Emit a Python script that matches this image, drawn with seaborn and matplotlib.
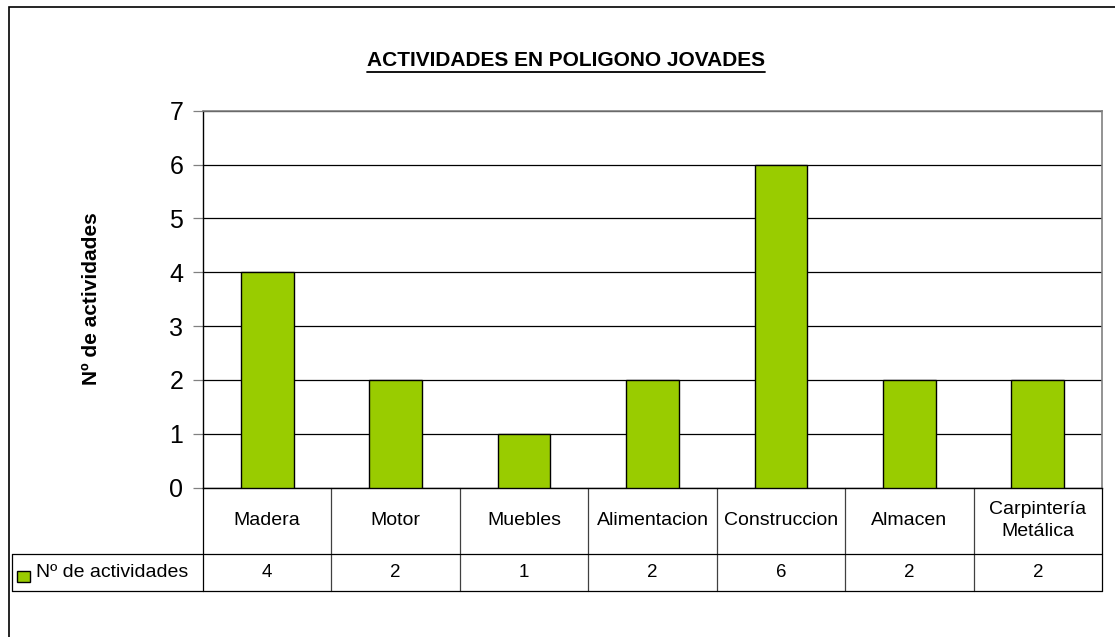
import matplotlib
matplotlib.use("Agg")
import matplotlib.pyplot as plt
import matplotlib.transforms as mtransforms
from matplotlib.patches import Rectangle
import seaborn as sns
import pandas as pd

categories = ["Madera", "Motor", "Muebles", "Alimentacion", "Construccion",
              "Almacen", "Carpintería\nMetálica"]
values = [4, 2, 1, 2, 6, 2, 2]
series_name = "Nº de actividades"
title = "ACTIVIDADES EN POLIGONO JOVADES"
yticks = [0, 1, 2, 3, 4, 5, 6, 7]

bar_color = "#99CC00"

sns.set_style("white")
plt.rcParams["font.family"] = ["Liberation Sans", "DejaVu Sans"]
plt.rcParams["text.color"] = "black"
plt.rcParams["axes.labelcolor"] = "black"
plt.rcParams["ytick.labelcolor"] = "black"

W, H = 1115, 637
fig = plt.figure(figsize=(W / 100, H / 100), dpi=100)

# plot area in pixels
x0, x1, y_top, y_zero = 203, 1102, 110.7, 487.5
ax = fig.add_axes([x0 / W, 1 - y_zero / H, (x1 - x0) / W, (y_zero - y_top) / H])

df = pd.DataFrame({"cat": categories, "val": values})
sns.barplot(data=df, x="cat", y="val", color=bar_color, saturation=1,
            edgecolor="black", linewidth=1.0, width=0.41, ax=ax, zorder=3)

ax.set_ylim(0, 7)
ax.set_xlim(-0.5, len(categories) - 0.5)
ax.set_yticks(yticks)
ax.yaxis.grid(True, color="black", linewidth=0.9, zorder=0)
ax.set_axisbelow(True)
ax.tick_params(axis="y", labelsize=18, length=7.2, width=0.9, color="#808080",
               labelcolor="black", left=True, pad=7)
ax.set_xticks([])
ax.set_xlabel("")
ax.set_ylabel(series_name, fontsize=15, fontweight="bold", labelpad=49,
              color="black")
for side in ["top", "right"]:
    ax.spines[side].set_color("#808080")
    ax.spines[side].set_linewidth(1.2)
ax.spines["left"].set_color("black")
ax.spines["bottom"].set_color("black")
ax.spines["left"].set_linewidth(1.0)
ax.spines["bottom"].set_linewidth(1.0)

# data table below the plot (x in data units, y in pixel-derived figure coords)
trans = mtransforms.blended_transform_factory(ax.transData, fig.transFigure)
fy = lambda py: 1 - py / H
row_mid, row_bot = 554, 591
n = len(categories)
line_kw = dict(color="black", linewidth=0.9, clip_on=False)
for i in range(n + 1):
    ax.plot([i - 0.5, i - 0.5], [fy(y_zero), fy(row_bot)], transform=trans,
            color="#404040" if 0 < i < n else "black",
            linewidth=0.9, clip_on=False)
ax.plot([-0.5, n - 0.5], [fy(row_bot), fy(row_bot)], transform=trans, **line_kw)
fig.add_artist(plt.Line2D([12 / W, x1 / W], [fy(row_mid), fy(row_mid)],
                          color="black", linewidth=0.9))
fig.add_artist(plt.Line2D([12 / W, x0 / W], [fy(row_bot), fy(row_bot)],
                          color="black", linewidth=0.9))
fig.add_artist(plt.Line2D([12 / W, 12 / W], [fy(row_mid), fy(row_bot)],
                          color="black", linewidth=0.9))

for i, (c, v) in enumerate(zip(categories, values)):
    ax.text(i, fy((y_zero + row_mid) / 2), c, transform=trans, ha="center",
            va="center", fontsize=14, linespacing=1.4, color="black")
    ax.text(i, fy((row_mid + row_bot) / 2), str(v), transform=trans,
            ha="center", va="center", fontsize=13.5, color="black")

# legend key in table
fig.add_artist(Rectangle((17 / W, fy(582)), 13 / W, 11 / H, facecolor=bar_color,
                         edgecolor="black", linewidth=1.0))
fig.text(36 / W, fy((row_mid + row_bot) / 2), series_name, ha="left",
         va="center", fontsize=14, color="black")

# title with underline
t = fig.text(566 / W, fy(61), title, ha="center", va="center", fontsize=15,
             fontweight="bold", color="black")
fig.canvas.draw()
bb = t.get_window_extent().transformed(fig.transFigure.inverted())
fig.add_artist(plt.Line2D([bb.x0, bb.x1], [bb.y0 - 1.5 / H, bb.y0 - 1.5 / H],
                          color="black", linewidth=1.3))

# outer chart border
fig.add_artist(Rectangle((9 / W, -0.05), 1.2, fy(7) + 0.05, fill=False,
                         edgecolor="black", linewidth=1.2,
                         transform=fig.transFigure))

fig.savefig("out.png", dpi=100)
